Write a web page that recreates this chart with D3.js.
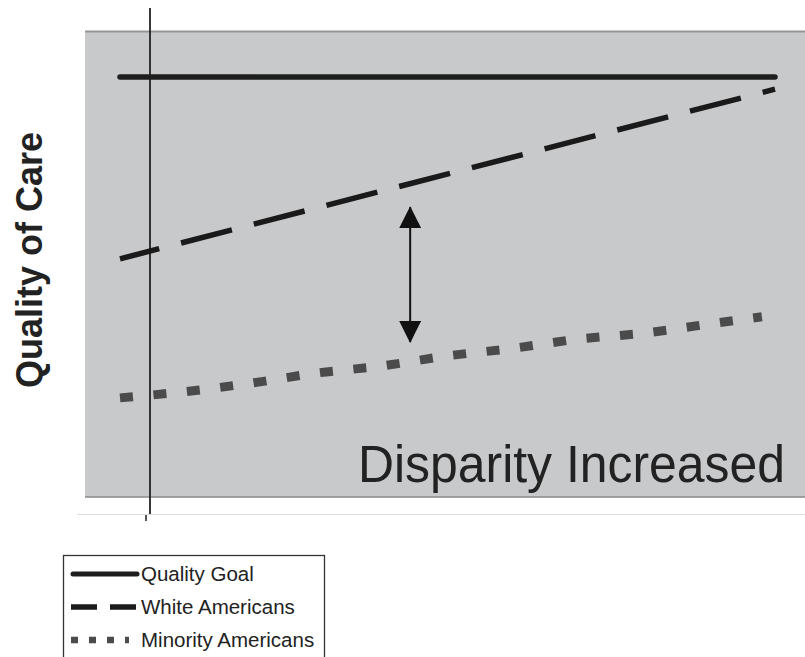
<!DOCTYPE html>
<html>
<head>
<meta charset="utf-8">
<script src="https://cdn.jsdelivr.net/npm/d3@7"></script>
<style>
  html, body { margin: 0; padding: 0; background: #ffffff; }
  svg { display: block; }
</style>
</head>
<body>
<svg id="chart" width="805" height="657"></svg>
<script>
// Time steps along the horizontal axis (arbitrary units)
const goalT = [0, 10];
const goalValues = [100, 100];

const whiteT = [0, 10];
const whiteValues = [56.7, 97.1];

const minorityT = [0, 1, 2, 3, 4, 5, 6, 7, 8, 9, 9.8];
const minorityValues = [23.6, 25.1, 27.1, 29.5, 31.2, 33.6, 35.4, 37.6, 39.0, 41.2, 42.9];

// Gap marker between the two groups
const gapT = [4.43];
const gapFrom = [36.9];
const gapTo = [69.0];

const seriesNames = ["Quality Goal", "White Americans", "Minority Americans"];
const yTitle = "Quality of Care";
const panelNote = "Disparity Increased";

const svg = d3.select("#chart");
const W = 805, H = 657;

const x = d3.scaleLinear().domain([0, 10]).range([120, 775]);
const y = d3.scaleLinear().domain([0, 100]).range([497, 77]);

// Grey plotting panel
svg.append("rect")
  .attr("x", 85).attr("y", 31)
  .attr("width", W - 85).attr("height", 466)
  .attr("fill", "#c8c9cb");
svg.append("line")
  .attr("x1", 85).attr("x2", W).attr("y1", 31.5).attr("y2", 31.5)
  .attr("stroke", "#959595").attr("stroke-width", 2);
svg.append("line")
  .attr("x1", 85).attr("x2", W).attr("y1", 497).attr("y2", 497)
  .attr("stroke", "#8a8a8a").attr("stroke-width", 1.5);
svg.append("line")
  .attr("x1", 77).attr("x2", W).attr("y1", 514.5).attr("y2", 514.5)
  .attr("stroke", "#dedede").attr("stroke-width", 1);

// Vertical axis line and its tick
svg.append("line")
  .attr("x1", 150).attr("x2", 150).attr("y1", 8).attr("y2", 514)
  .attr("stroke", "#222").attr("stroke-width", 1.8);
svg.append("line")
  .attr("x1", 146).attr("x2", 146).attr("y1", 515).attr("y2", 521)
  .attr("stroke", "#222").attr("stroke-width", 1.5);

const line = d3.line().x(d => x(d[0])).y(d => y(d[1]));
const lineCurve = d3.line().x(d => x(d[0])).y(d => y(d[1])).curve(d3.curveMonotoneX);

// Quality goal (solid)
svg.append("path")
  .attr("d", line(d3.zip(goalT, goalValues)))
  .attr("fill", "none").attr("stroke", "#1e1e1e")
  .attr("stroke-width", 5.5).attr("stroke-linecap", "round");

// White Americans (long dashes)
svg.append("path")
  .attr("d", line(d3.zip(whiteT, whiteValues)))
  .attr("fill", "none").attr("stroke", "#1a1a1a")
  .attr("stroke-width", 5.5)
  .attr("stroke-dasharray", "52.5,22.6")
  .attr("stroke-dashoffset", 12);

// Minority Americans (square dots)
svg.append("path")
  .attr("d", lineCurve(d3.zip(minorityT, minorityValues)))
  .attr("fill", "none").attr("stroke", "#4b4b4b")
  .attr("stroke-width", 9)
  .attr("stroke-dasharray", "13,20.6");

// Double-headed arrow showing the gap
const defs = svg.append("defs");
defs.append("marker")
  .attr("id", "head")
  .attr("viewBox", "0 0 22 22")
  .attr("refX", 21).attr("refY", 11)
  .attr("markerWidth", 22).attr("markerHeight", 22)
  .attr("markerUnits", "userSpaceOnUse")
  .attr("orient", "auto-start-reverse")
  .append("path")
  .attr("d", "M0,0 L22,11 L0,22 Z")
  .attr("fill", "#111");

svg.selectAll(".gap").data(gapT).enter().append("line")
  .attr("class", "gap")
  .attr("x1", (d, i) => x(d)).attr("x2", (d, i) => x(d))
  .attr("y1", (d, i) => y(gapFrom[i])).attr("y2", (d, i) => y(gapTo[i]))
  .attr("stroke", "#111").attr("stroke-width", 2)
  .attr("marker-start", "url(#head)")
  .attr("marker-end", "url(#head)");

// Panel caption
svg.append("text")
  .attr("x", 785).attr("y", 482)
  .attr("text-anchor", "end")
  .attr("font-family", "Liberation Sans, Arial, sans-serif")
  .attr("font-size", 51)
  .attr("textLength", 427)
  .attr("lengthAdjust", "spacingAndGlyphs")
  .attr("fill", "#222")
  .text(panelNote);

// Vertical axis title
svg.append("text")
  .attr("transform", "translate(42,260) rotate(-90)")
  .attr("text-anchor", "middle")
  .attr("font-family", "Liberation Sans, Arial, sans-serif")
  .attr("font-weight", "bold")
  .attr("font-size", 36)
  .attr("fill", "#222")
  .text(yTitle);

// Legend
const lg = svg.append("g");
lg.append("rect")
  .attr("x", 63.5).attr("y", 555.5)
  .attr("width", 261).attr("height", 120)
  .attr("fill", "#fff").attr("stroke", "#333").attr("stroke-width", 1.3);

const legendStyles = [
  { color: "#1e1e1e", width: 5, dash: null, cap: "round", end: 137 },
  { color: "#1a1a1a", width: 5.5, dash: "26,13", cap: "butt", end: 137 },
  { color: "#4b4b4b", width: 6.5, dash: "7,11", cap: "butt", end: 129 }
];
const legendY = d3.scalePoint().domain(seriesNames).range([574, 640]);

seriesNames.forEach((name, i) => {
  const s = legendStyles[i];
  const ly = legendY(name);
  const p = lg.append("line")
    .attr("x1", i === 0 ? 73 : 71).attr("x2", s.end)
    .attr("y1", ly).attr("y2", ly)
    .attr("stroke", s.color).attr("stroke-width", s.width)
    .attr("stroke-linecap", s.cap);
  if (s.dash) p.attr("stroke-dasharray", s.dash);
  lg.append("text")
    .attr("x", 141).attr("y", ly + 7)
    .attr("font-family", "Liberation Sans, Arial, sans-serif")
    .attr("font-size", 20.5)
    .attr("fill", "#222")
    .text(name);
});
</script>
</body>
</html>
